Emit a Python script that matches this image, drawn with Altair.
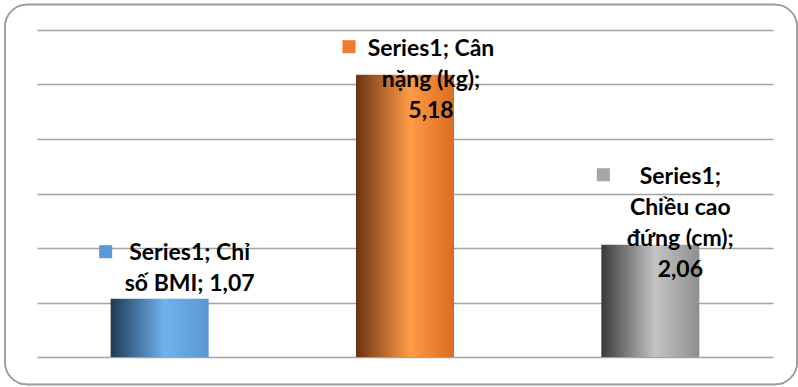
import altair as alt
import pandas as pd

categories = ["Chỉ số BMI", "Cân nặng (kg)", "Chiều cao đứng (cm)"]
values = [1.07, 5.18, 2.06]
series_name = "Series1"
label_lines = [
    ["Series1; Chỉ", "số BMI; 1,07"],
    ["Series1; Cân", "nặng (kg);", "5,18"],
    ["Series1;", "Chiều cao", "đứng (cm);", "2,06"],
]
y_ticks = [0, 1, 2, 3, 4, 5, 6]

df = pd.DataFrame({
    "cat": categories,
    "val": values,
    "label": ["\n".join(l) for l in label_lines],
})

W, H = 736, 327
FONT = "Lato"

x_enc = alt.X("cat:N", sort=categories, axis=None,
              scale=alt.Scale(paddingInner=0, paddingOuter=0))
y_scale = alt.Scale(domain=[0, 6], nice=False, zero=True)
y_axis = alt.Axis(values=y_ticks, labels=False, ticks=False, domain=False,
                  title=None, grid=True, gridColor="#a3a3a3", gridWidth=1.6)
y_enc = alt.Y("val:Q", scale=y_scale, axis=y_axis)


def grad(dark, light, mid):
    return alt.Gradient(
        gradient="linear", x1=0, x2=1, y1=0, y2=0,
        stops=[alt.GradientStop(color=dark, offset=0),
               alt.GradientStop(color=light, offset=0.55),
               alt.GradientStop(color=mid, offset=1)])


bar_styles = [
    (grad("#1e3954", "#6db2ee", "#5b97cf"), "#5b9bd5", -54, 30, -39, -47),
    (grad("#6a3312", "#ff9a45", "#d96e22"), "#ed7d31", -56, 26, -19, -28),
    (grad("#3a3a3a", "#c4c4c4", "#8e8e8e"), "#a5a5a5", -47, 30, -61, -70),
]

border = alt.Chart(df).mark_rect(
    fill=None, stroke="#a0a0a0", strokeWidth=1.5, cornerRadius=22
).encode(x=alt.value(-32), x2=alt.value(760), y=alt.value(-25.5), y2=alt.value(354.5))

base = alt.Chart(df)
layers = [border]

for i, (g, sqc, sqdx, tdx, tdy, sqdy) in enumerate(bar_styles):
    sub = base.transform_filter(alt.datum.cat == categories[i])
    layers.append(sub.mark_bar(color=g, size=98).encode(x=x_enc, y=y_enc))

for i, (g, sqc, sqdx, tdx, tdy, sqdy) in enumerate(bar_styles):
    sub = base.transform_filter(alt.datum.cat == categories[i])
    layers.append(sub.mark_text(
        font=FONT, fontSize=23, fontWeight="bold", color="black",
        lineBreak="\n", lineHeight=31, align="center", baseline="alphabetic",
        dx=tdx, dy=tdy
    ).encode(x=x_enc, y=y_enc, text="label:N"))
    layers.append(sub.mark_square(
        color=sqc, size=170, opacity=1, xOffset=sqdx, yOffset=sqdy
    ).encode(x=x_enc, y=y_enc))

chart = alt.layer(*layers).properties(
    width=W, height=H,
    autosize=alt.AutoSizeParams(type="none"),
    padding={"left": 37, "top": 30, "right": 25, "bottom": 30},
    background="white",
).configure_view(stroke=None)

chart.save("out.html", embed_options={"renderer": "svg", "actions": False})
